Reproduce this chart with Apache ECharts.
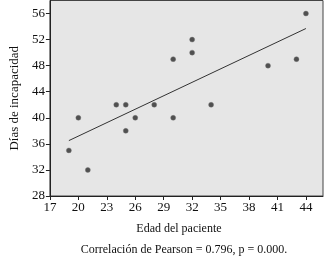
<!DOCTYPE html>
<html><head><meta charset="utf-8">
<script src="https://cdn.jsdelivr.net/npm/echarts@6/dist/echarts.min.js"></script>
<style>html,body{margin:0;padding:0;background:#fff}#c{width:325px;height:259px}</style>
</head><body><div id="c"></div>
<script>
const edad = [19, 20, 21, 24, 25, 25, 26, 28, 30, 30, 32, 32, 34, 40, 43, 44];
const dias = [35, 40, 32, 42, 42, 38, 40, 42, 49, 40, 52, 50, 42, 48, 49, 56];
const fitX = [19, 44];
const fitY = [36.5, 53.7];
const xTicks = [17, 20, 23, 26, 29, 32, 35, 38, 41, 44];
const yTicks = [28, 32, 36, 40, 44, 48, 52, 56];
const xTitle = 'Edad del paciente';
const yTitle = 'Días de incapacidad';
const note = 'Correlación de Pearson = 0.796, p = 0.000.';

const font = 'Liberation Serif';
const chart = echarts.init(document.getElementById('c'));
chart.setOption({
  animation: false,
  textStyle: {fontFamily: font},
  grid: {left: 46, right: 2, top: 0.5, bottom: 63, show: true, backgroundColor: '#e6e6e6', borderColor: '#444', borderWidth: 1},
  title: {text: note, left: 179, top: 239, textAlign: 'center',
    textStyle: {fontFamily: font, fontSize: 12, fontWeight: 'normal', color: '#111'}},
  xAxis: {
    type: 'value', min: 17, max: 45.8,
    name: xTitle, nameLocation: 'middle', nameGap: 27,
    nameTextStyle: {fontFamily: font, fontSize: 12, color: '#111', padding: [0, 15, 0, 0]},
    axisLine: {lineStyle: {color: '#222'}},
    axisTick: {customValues: xTicks, length: 4, lineStyle: {color: '#222'}},
    axisLabel: {customValues: xTicks, fontFamily: font, fontSize: 13, color: '#111', margin: 5},
    splitLine: {show: false}
  },
  yAxis: {
    type: 'value', min: 28, max: 58,
    name: yTitle, nameLocation: 'middle', nameGap: 28,
    nameTextStyle: {fontFamily: font, fontSize: 13, color: '#111'},
    axisLine: {show: true, lineStyle: {color: '#222'}},
    axisTick: {show: true, customValues: yTicks, length: 4, lineStyle: {color: '#222'}},
    axisLabel: {customValues: yTicks, fontFamily: font, fontSize: 13, color: '#111', margin: 5},
    splitLine: {show: false}
  },
  series: [
    {type: 'line', data: fitX.map((x, i) => [x, fitY[i]]), symbol: 'none',
     lineStyle: {color: '#333', width: 1}, z: 2},
    {type: 'scatter', data: edad.map((x, i) => [x, dias[i]]), symbolSize: 5,
     itemStyle: {color: '#2a2a2a', borderColor: '#777', borderWidth: 0.5}, z: 3}
  ]
});
</script></body></html>
